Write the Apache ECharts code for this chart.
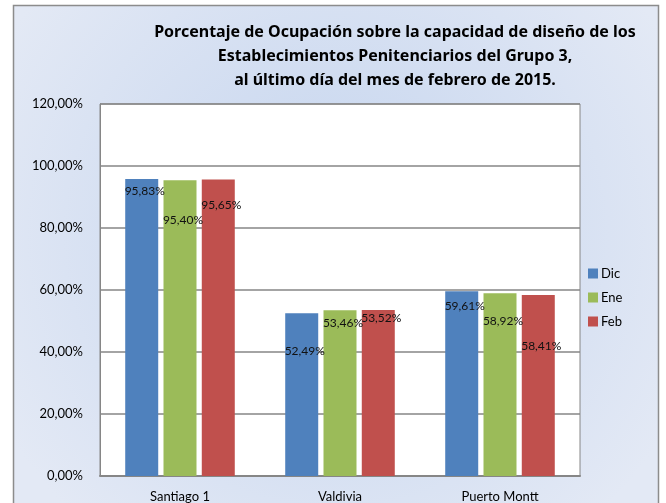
<!DOCTYPE html>
<html>
<head>
<meta charset="utf-8">
<script src="https://cdn.jsdelivr.net/npm/echarts@6/dist/echarts.min.js"></script>
<style>
html, body {margin: 0; padding: 0; background: #fff;}
#chart {width: 666px; height: 503px;}
</style>
</head>
<body>
<div id="chart"></div>
<script>
var categories = ['Santiago 1', 'Valdivia', 'Puerto Montt'];
var dic = [95.83, 52.49, 59.61];
var ene = [95.40, 53.46, 58.92];
var feb = [95.65, 53.52, 58.41];
var yTicks = [0, 20, 40, 60, 80, 100, 120];

// distancia del centro de la etiqueta bajo el tope de la barra
var dicLabelY = [12, 38, 15];
var eneLabelY = [40, 13, 28];
var febLabelY = [26, 8, 51];

var FONT = 'Lato';

function fmt(v) {
    return v.toFixed(2).replace('.', ',') + '%';
}

function build(values, labelY) {
    var out = [];
    for (var i = 0; i < values.length; i++) {
        out.push({
            value: values[i],
            label: {position: ['50%', labelY[i]], offset: [3, 0]}
        });
    }
    return out;
}

function serie(name, color, values, labelY) {
    return {
        name: name,
        type: 'bar',
        barWidth: 33,
        barGap: '16%',
        itemStyle: {color: color},
        label: {
            show: true,
            align: 'center',
            verticalAlign: 'middle',
            color: '#111',
            fontFamily: FONT,
            fontSize: 12,
            formatter: function (p) { return fmt(p.value); }
        },
        data: build(values, labelY)
    };
}

var chart = echarts.init(document.getElementById('chart'));
var option = {
    backgroundColor: '#fff',
    animation: false,
    graphic: [{
        type: 'rect',
        z: -10,
        shape: {x: 13.5, y: 5.5, width: 645, height: 510},
        style: {
            fill: new echarts.graphic.RadialGradient(0.5, 0.45, 0.75, [
                {offset: 0, color: '#c4d4ee'},
                {offset: 1, color: '#e3e9f5'}
            ]),
            stroke: '#8c8c8c',
            lineWidth: 1.5
        }
    }],
    title: {
        text: 'Porcentaje de Ocupación sobre la capacidad de diseño de los\nEstablecimientos Penitenciarios del Grupo 3,\nal último día del mes de febrero de 2015.',
        left: 390,
        top: 15,
        textAlign: 'center',
        textStyle: {
            fontFamily: 'Noto Sans',
            fontWeight: 'bold',
            fontSize: 16,
            lineHeight: 24,
            color: '#000'
        }
    },
    legend: {
        orient: 'vertical',
        left: 583,
        top: 262,
        itemWidth: 10,
        itemHeight: 10,
        itemGap: 11,
        icon: 'rect',
        textStyle: {fontFamily: FONT, fontSize: 13, color: '#000', padding: [0, 0, 0, -2]},
        data: ['Dic', 'Ene', 'Feb']
    },
    grid: {left: 100, right: 86, top: 104, bottom: 20, show: true, backgroundColor: '#fff', borderColor: '#868686', borderWidth: 1},
    xAxis: {
        type: 'category',
        data: categories,
        axisTick: {show: false},
        axisLine: {lineStyle: {color: '#868686', width: 2}},
        axisLabel: {fontFamily: FONT, fontSize: 13, color: '#000', margin: 14}
    },
    yAxis: {
        type: 'value',
        min: yTicks[0],
        max: yTicks[yTicks.length - 1],
        interval: 20,
        axisLine: {show: true, lineStyle: {color: '#868686'}},
        axisTick: {show: false},
        splitLine: {lineStyle: {color: '#868686', width: 1.5}},
        axisLabel: {
            fontFamily: FONT, fontSize: 13, color: '#000', margin: 17,
            formatter: function (v) { return fmt(v); }
        }
    },
    series: [
        serie('Dic', '#4f81bd', dic, dicLabelY),
        serie('Ene', '#9bbb59', ene, eneLabelY),
        serie('Feb', '#c0504d', feb, febLabelY)
    ]
};
chart.setOption(option);
</script>
</body>
</html>
